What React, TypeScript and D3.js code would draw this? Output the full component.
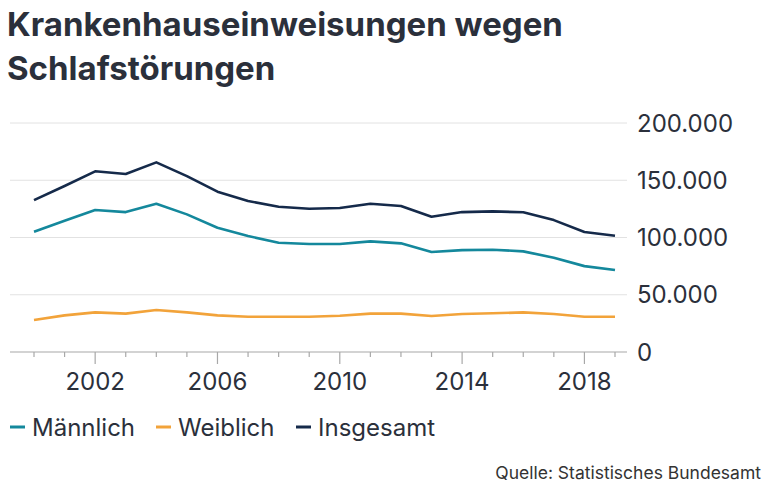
import React, { useEffect, useRef } from 'react';
import * as d3 from 'd3';

const years = [2000, 2001, 2002, 2003, 2004, 2005, 2006, 2007, 2008, 2009, 2010, 2011, 2012, 2013, 2014, 2015, 2016, 2017, 2018, 2019];
const maennlich = [105000, 114600, 124000, 122200, 129500, 120200, 108500, 101300, 95400, 94300, 94300, 96600, 94900, 87300, 89000, 89300, 87900, 82300, 75000, 71600];
const weiblich = [27900, 32000, 34600, 33500, 36700, 34600, 32000, 30800, 30800, 30800, 31700, 33500, 33500, 31400, 33200, 33800, 34600, 33200, 30800, 30800];
const insgesamt = [132700, 145000, 157800, 155400, 165600, 153600, 140000, 131800, 126900, 125100, 125700, 129500, 127500, 118100, 122200, 122800, 122000, 115200, 104800, 101600];
const yTicks = [0, 50000, 100000, 150000, 200000];
const xTickLabels = [2002, 2006, 2010, 2014, 2018];

const series = [
  { name: 'Männlich', values: maennlich, color: '#14889c' },
  { name: 'Weiblich', values: weiblich, color: '#f2a33a' },
  { name: 'Insgesamt', values: insgesamt, color: '#152a4a' },
];

const W = 768;
const H = 491;
const FONT = 'Inter, "Noto Sans", sans-serif';
const TEXT = '#2b303b';

const App = () => {
  const svgRef = useRef<SVGSVGElement | null>(null);

  useEffect(() => {
    document.body.style.margin = '0';
    if (!svgRef.current) return;
    const svg = d3.select(svgRef.current);
    svg.selectAll('*').remove();

    const x = d3.scaleLinear().domain([2000, 2019]).range([34, 615]);
    const y = d3.scaleLinear().domain([0, 200000]).range([352, 123]);
    const fmt = d3.formatLocale({ decimal: ',', thousands: '.', grouping: [3], currency: ['', '€'] }).format(',');

    // Title
    const title = svg.append('text')
      .attr('font-family', FONT)
      .attr('font-weight', 700)
      .attr('font-size', 33)
      .attr('fill', TEXT);
    title.append('tspan').attr('x', 7).attr('y', 36).text('Krankenhauseinweisungen wegen');
    title.append('tspan').attr('x', 7).attr('y', 80).text('Schlafstörungen');

    // Gridlines
    svg.append('g')
      .selectAll('line')
      .data(yTicks.filter(d => d > 0))
      .join('line')
      .attr('x1', 10)
      .attr('x2', 627)
      .attr('y1', d => y(d))
      .attr('y2', d => y(d))
      .attr('stroke', '#e2e2e2')
      .attr('stroke-width', 1);

    // Y labels
    svg.append('g')
      .selectAll('text')
      .data(yTicks)
      .join('text')
      .attr('x', 637)
      .attr('y', d => y(d) + 8.5)
      .attr('font-family', FONT)
      .attr('font-size', 24)
      .attr('fill', TEXT)
      .text(d => fmt(d));

    // X axis
    const axis = svg.append('g');
    axis.append('line')
      .attr('x1', 10)
      .attr('x2', 627)
      .attr('y1', y(0))
      .attr('y2', y(0))
      .attr('stroke', '#a8a8a8')
      .attr('stroke-width', 1.2);
    axis.selectAll('line.tick')
      .data(years)
      .join('line')
      .attr('class', 'tick')
      .attr('x1', d => x(d))
      .attr('x2', d => x(d))
      .attr('y1', y(0))
      .attr('y2', d => y(0) + (xTickLabels.includes(d) ? 12 : 5))
      .attr('stroke', '#a8a8a8')
      .attr('stroke-width', 1.2);
    axis.selectAll('text')
      .data(xTickLabels)
      .join('text')
      .attr('x', d => x(d))
      .attr('y', 390)
      .attr('text-anchor', 'middle')
      .attr('font-family', FONT)
      .attr('font-size', 24)
      .attr('fill', TEXT)
      .text(d => d);

    // Lines
    const line = d3.line<number>()
      .x((_, i) => x(years[i]))
      .y(d => y(d));
    svg.append('g')
      .selectAll('path')
      .data(series)
      .join('path')
      .attr('fill', 'none')
      .attr('stroke', d => d.color)
      .attr('stroke-width', 2.6)
      .attr('stroke-linejoin', 'round')
      .attr('d', d => line(d.values));

    // Legend
    const legendX = [10, 156, 296];
    const legend = svg.append('g')
      .selectAll('g')
      .data(series)
      .join('g')
      .attr('transform', (_, i) => `translate(${legendX[i]},427)`);
    legend.append('line')
      .attr('x1', 0)
      .attr('x2', 15)
      .attr('stroke', d => d.color)
      .attr('stroke-width', 3);
    legend.append('text')
      .attr('x', 22)
      .attr('y', 8.5)
      .attr('font-family', FONT)
      .attr('font-size', 24)
      .attr('fill', TEXT)
      .text(d => d.name);

    // Source
    svg.append('text')
      .attr('x', 761)
      .attr('y', 479)
      .attr('text-anchor', 'end')
      .attr('font-family', FONT)
      .attr('font-size', 17.5)
      .attr('fill', '#333')
      .text('Quelle: Statistisches Bundesamt');
  }, []);

  return <svg ref={svgRef} width={W} height={H} style={{ display: 'block', background: '#fff' }} />;
};

export default App;
